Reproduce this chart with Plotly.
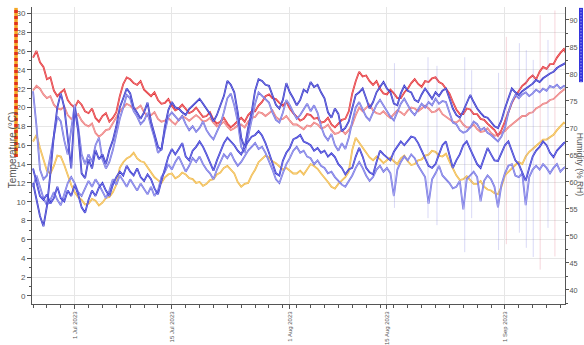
import pandas as pd
import plotly.graph_objects as go

# 12-hourly readings starting 25 Jun 2023 00:00
start = "2023-06-25 00:00"
n_points = 155

# Temperature sensors (degC)
temp_a = [
    25.3, 26.0, 24.8, 24.3, 23.0, 23.2, 21.8, 21.2, 21.6, 21.9, 20.8, 20.3, 20.0, 20.7, 20.3, 19.6, 19.4, 19.9, 18.9, 18.5,
    19.1, 19.4, 18.5, 18.9, 19.5, 21.2, 22.5, 23.2, 23.0, 22.6, 22.4, 22.8, 21.9, 21.5, 21.2, 21.6, 20.8, 20.4, 20.5, 20.9,
    20.2, 19.7, 19.9, 20.3, 19.8, 19.4, 19.6, 20.0, 19.5, 19.0, 19.1, 19.5, 18.7, 18.3, 18.5, 18.9, 18.3, 17.9, 18.2, 18.6,
    18.9, 18.5, 19.2, 19.6, 19.6, 20.2, 20.6, 21.2, 21.4, 21.0, 20.9, 20.5, 20.2, 20.6, 19.9, 19.4, 19.0, 18.6, 18.8, 19.3,
    19.2, 18.8, 18.9, 18.4, 18.5, 18.9, 18.2, 17.9, 18.3, 18.7, 18.8, 19.6, 21.5, 22.8, 23.8, 23.3, 23.4, 22.8, 22.4, 22.8,
    22.0, 21.5, 21.4, 21.9, 21.5, 21.0, 21.0, 21.6, 22.0, 22.6, 23.0, 22.5, 22.2, 22.8, 22.7, 23.1, 23.2, 22.7, 22.5, 22.0,
    21.5, 20.6, 19.8, 19.3, 19.3, 19.9, 19.8, 19.3, 19.3, 18.8, 18.7, 18.3, 18.0, 17.6, 17.0, 17.6, 18.5, 19.6, 20.5, 21.2,
    21.8, 22.3, 22.6, 23.1, 23.4, 23.0, 23.8, 24.3, 24.1, 24.6, 24.6, 25.3, 25.8, 26.2, 25.5,
]
temp_b = [
    21.8, 22.3, 22.0, 21.4, 21.0, 21.2, 20.3, 19.9, 19.8, 20.1, 19.2, 18.8, 19.0, 19.3, 18.6, 18.2, 18.0, 18.3, 17.3, 16.9,
    17.2, 17.6, 17.7, 18.3, 19.0, 19.6, 20.0, 20.4, 20.2, 19.8, 19.9, 20.2, 19.5, 19.1, 19.2, 19.5, 18.8, 18.5, 18.6, 18.9,
    18.5, 18.2, 18.7, 19.1, 18.9, 18.6, 18.9, 19.2, 18.9, 18.5, 18.6, 18.9, 18.4, 18.0, 18.2, 18.5, 18.0, 17.6, 17.8, 18.1,
    18.2, 17.9, 18.5, 18.9, 19.0, 19.5, 19.4, 19.1, 19.4, 19.7, 19.0, 18.7, 18.8, 19.1, 18.6, 18.2, 18.2, 17.9, 17.7, 18.1,
    18.0, 18.4, 18.2, 17.8, 17.9, 18.2, 17.6, 17.2, 17.3, 17.6, 17.2, 17.6, 18.2, 19.2, 20.0, 19.6, 20.0, 20.3, 19.7, 19.4,
    19.3, 19.6, 19.2, 18.9, 19.3, 19.7, 19.5, 19.2, 19.7, 20.0, 19.9, 19.6, 19.9, 20.2, 19.9, 19.5, 19.6, 19.9, 19.3, 19.0,
    18.8, 18.5, 18.4, 18.7, 18.2, 17.9, 17.9, 18.2, 17.7, 17.4, 17.5, 17.8, 17.3, 17.0, 17.1, 17.3, 17.5, 17.9, 18.2, 18.6,
    18.8, 19.1, 19.1, 19.4, 19.5, 19.9, 20.1, 20.4, 20.5, 20.8, 20.9, 21.3, 21.6, 21.9, 22.0,
]
temp_c = [
    16.4, 17.1, 15.7, 14.6, 13.3, 13.0, 13.8, 14.9, 14.8, 13.9, 12.8, 11.8, 11.0, 10.5, 10.2, 9.7, 9.8, 10.3, 10.1, 9.6,
    9.9, 10.4, 10.5, 11.0, 11.8, 13.6, 14.2, 14.6, 14.8, 15.2, 14.6, 14.3, 14.2, 13.7, 13.2, 12.6, 12.3, 12.0, 12.6, 12.9,
    13.0, 12.5, 12.7, 13.1, 12.9, 12.5, 12.4, 12.0, 12.1, 11.7, 11.9, 12.3, 12.4, 12.9, 13.1, 13.6, 13.8, 13.4, 13.0, 12.1,
    11.6, 11.9, 12.0, 12.8, 13.4, 14.2, 14.5, 14.9, 14.7, 14.3, 14.1, 13.7, 13.4, 13.6, 13.3, 13.0, 13.0, 13.3, 12.9, 13.4,
    14.0, 13.8, 13.5, 13.0, 12.6, 12.1, 11.6, 11.4, 11.9, 12.3, 12.6, 13.2, 15.5, 16.8, 16.3, 15.8, 15.2, 14.7, 14.4, 14.8,
    14.5, 14.1, 14.4, 14.7, 14.3, 14.0, 14.6, 14.9, 14.3, 13.9, 14.0, 14.4, 14.5, 14.9, 15.0, 15.4, 15.3, 14.9, 14.8, 15.1,
    14.3, 13.5, 12.8, 12.3, 12.4, 12.7, 12.3, 11.9, 11.9, 12.2, 11.6, 11.3, 11.2, 10.9, 10.8, 11.6, 12.8, 13.2, 13.6, 13.9,
    14.2, 14.0, 14.8, 15.3, 15.6, 15.9, 16.2, 16.6, 16.6, 16.9, 17.1, 17.6, 18.0, 18.4, 18.2,
]

# Humidity sensors (%RH)
rh_a = [
    59.8, 56.4, 53.7, 51.8, 55.5, 61.6, 68.6, 73.8, 76.4, 73.8, 68.6, 62.5, 73.8, 69.4, 61.6, 60.7, 64.2, 62.5, 65.9, 64.2,
    65.1, 63.3, 65.9, 67.7, 70.3, 73.8, 75.5, 77.3, 76.4, 73.8, 72.8, 71.7, 72.9, 74.7, 71.2, 68.6, 66.5, 65.9, 70.3, 73.3,
    74.8, 73.8, 73.6, 72.9, 72.4, 73.5, 74.2, 74.8, 75.4, 74.5, 73.6, 72.6, 71.2, 72.4, 74.2, 75.9, 78.7, 78.0, 76.6, 72.9,
    68.2, 66.3, 70.0, 72.9, 76.9, 79.0, 78.7, 78.0, 77.8, 75.9, 74.3, 73.6, 75.2, 78.3, 76.6, 75.5, 74.2, 75.2, 77.1, 76.6,
    78.5, 77.6, 78.0, 76.6, 75.5, 72.9, 71.9, 73.6, 72.6, 69.4, 70.0, 71.2, 73.5, 76.1, 76.6, 77.3, 75.5, 73.6, 74.8, 76.6,
    77.6, 78.5, 77.3, 76.6, 74.5, 74.2, 76.4, 77.8, 76.9, 76.6, 75.2, 74.8, 76.2, 77.3, 76.4, 75.4, 76.6, 75.9, 76.9, 77.3,
    75.5, 73.6, 72.4, 71.9, 73.1, 74.7, 76.1, 74.8, 73.6, 72.8, 72.1, 71.9, 71.0, 70.3, 70.0, 71.4, 73.6, 75.5, 77.3, 76.6,
    76.1, 76.8, 77.3, 77.8, 78.2, 78.9, 78.5, 79.2, 79.7, 80.1, 80.4, 81.1, 81.5, 81.8, 82.2,
]
rh_b = [
    76.8, 70.3, 62.3, 60.5, 61.2, 65.1, 68.6, 72.1, 71.2, 67.7, 65.1, 69.4, 74.3, 70.3, 65.1, 63.3, 65.1, 63.7, 66.8, 68.2,
    64.2, 62.5, 63.7, 65.9, 68.6, 71.7, 73.8, 76.1, 75.5, 73.1, 72.1, 70.7, 71.4, 72.8, 70.3, 68.2, 65.4, 66.1, 69.4, 72.1,
    72.9, 72.1, 71.4, 72.2, 70.7, 69.6, 70.3, 69.3, 70.0, 71.2, 69.6, 68.6, 67.9, 69.3, 70.7, 72.9, 75.5, 76.4, 74.2, 71.2,
    66.5, 65.4, 68.4, 71.0, 74.5, 76.6, 75.9, 75.2, 74.7, 72.9, 71.5, 71.0, 72.8, 75.2, 74.2, 72.9, 71.7, 72.4, 73.5, 74.5,
    73.1, 74.2, 72.8, 70.3, 68.6, 67.7, 68.9, 66.8, 65.8, 67.2, 66.1, 68.2, 71.2, 73.8, 74.8, 73.5, 72.1, 71.4, 72.8, 74.3,
    75.2, 74.2, 73.1, 72.1, 71.4, 72.9, 74.5, 75.4, 74.2, 73.1, 72.4, 73.5, 74.5, 73.8, 74.8, 74.2, 75.4, 74.5, 75.0, 74.8,
    72.9, 71.0, 70.7, 69.6, 69.1, 69.4, 70.1, 71.2, 70.7, 69.6, 70.0, 69.1, 68.7, 68.0, 67.5, 68.4, 70.0, 72.9, 74.8, 76.1,
    75.5, 76.2, 76.6, 75.9, 76.4, 77.1, 76.6, 77.3, 76.9, 77.8, 77.5, 78.0, 77.3, 77.8, 77.3,
]
rh_c = [
    62.5, 60.2, 57.4, 56.7, 57.7, 56.0, 57.0, 59.1, 57.0, 56.4, 58.4, 57.4, 59.5, 57.7, 55.3, 54.3, 56.7, 58.4, 57.4, 59.0,
    59.8, 58.4, 57.4, 59.5, 60.9, 61.9, 61.2, 63.0, 61.9, 61.2, 62.5, 60.9, 60.2, 61.4, 60.5, 58.8, 57.7, 60.2, 62.6, 64.7,
    66.1, 65.1, 66.1, 67.2, 64.7, 64.0, 65.8, 66.5, 67.5, 66.5, 65.1, 63.7, 62.1, 64.0, 65.8, 67.2, 68.2, 67.5, 66.8, 65.8,
    65.1, 66.5, 67.5, 68.4, 68.7, 69.4, 68.6, 67.2, 65.4, 63.3, 61.6, 61.2, 63.9, 65.4, 66.3, 67.9, 68.2, 68.7, 67.5, 67.2,
    66.8, 65.8, 66.3, 65.4, 65.8, 64.7, 65.3, 64.6, 63.3, 62.6, 61.4, 62.3, 62.6, 64.7, 66.3, 64.7, 62.6, 61.8, 61.4, 63.7,
    65.8, 65.1, 64.6, 64.0, 65.6, 66.5, 67.5, 66.8, 67.7, 68.4, 68.2, 67.2, 65.8, 64.4, 63.0, 62.6, 63.3, 65.1, 66.8, 67.5,
    65.1, 62.6, 64.0, 65.1, 66.8, 67.5, 66.1, 64.6, 63.3, 62.6, 64.4, 66.3, 65.1, 64.0, 63.9, 65.4, 66.8, 67.5, 65.8, 64.0,
    63.3, 61.6, 60.2, 62.6, 64.7, 65.8, 66.5, 67.5, 66.8, 65.4, 64.6, 65.8, 66.5, 67.2, 67.5,
]
rh_d = [
    59.0, 61.2, 59.1, 57.0, 55.7, 56.7, 58.1, 56.7, 55.7, 57.7, 59.8, 60.9, 59.8, 58.1, 57.4, 58.8, 60.2, 59.1, 60.5, 59.5,
    58.1, 57.0, 58.4, 60.5, 59.5, 61.2, 60.2, 59.1, 60.5, 59.5, 58.4, 59.7, 58.8, 57.7, 59.1, 57.4, 58.4, 60.9, 61.9, 63.3,
    62.3, 63.7, 64.7, 63.3, 61.9, 63.0, 64.4, 63.7, 64.7, 63.3, 62.3, 61.6, 60.5, 62.3, 63.7, 65.1, 64.4, 65.4, 64.0, 63.0,
    63.7, 64.7, 65.8, 66.5, 67.2, 66.1, 66.5, 65.4, 64.0, 62.3, 60.5, 59.8, 61.6, 63.3, 64.4, 65.8, 66.5, 65.4, 65.8, 64.7,
    64.4, 63.3, 64.0, 63.0, 62.6, 61.6, 61.9, 60.9, 60.2, 59.5, 59.1, 60.2, 61.2, 62.6, 63.7, 62.6, 61.2, 60.2, 60.9, 62.3,
    63.0, 61.9, 62.6, 61.6, 57.4, 62.3, 63.7, 64.7, 64.0, 65.1, 64.4, 63.0, 61.9, 60.9, 56.0, 60.5, 61.6, 63.0, 61.2, 60.5,
    59.8, 58.8, 59.1, 60.2, 54.9, 60.5, 61.2, 61.9, 60.9, 56.4, 60.2, 61.2, 60.5, 59.1, 55.3, 59.5, 61.6, 63.0, 63.3, 61.2,
    60.9, 61.6, 55.7, 60.9, 62.3, 63.0, 62.3, 63.3, 62.6, 61.6, 62.6, 63.3, 61.9, 62.6, 63.0,
]

# Short sensor glitches (%RH range of each spike)
spike_rh_dates = ["2023-08-16 02:00", "2023-08-20 22:00", "2023-08-22 05:00", "2023-08-26 05:00",
                  "2023-08-27 05:00", "2023-08-31 02:00", "2023-09-03 02:00", "2023-09-04 02:00",
                  "2023-09-05 02:00", "2023-09-07 05:00"]
spike_rh_low = [55.2, 53.3, 52.0, 47.0, 53.3, 47.4, 50.6, 47.8, 46.1, 51.5]
spike_rh_high = [82.0, 83.1, 81.5, 83.1, 80.7, 80.2, 85.7, 84.4, 82.6, 86.3]
spike_t_dates = ["2023-09-01 05:00", "2023-09-06 02:00", "2023-09-08 05:00"]
spike_t_low = [5.5, 2.8, 4.2]
spike_t_high = [27.5, 29.8, 30.3]

x_ticks = ["2023-07-01", "2023-07-15", "2023-08-01", "2023-08-15", "2023-09-01"]
x_tick_text = ["1 Jul 2023", "15 Jul 2023", "1 Aug 2023", "15 Aug 2023", "1 Sep 2023"]

times = pd.date_range(start, periods=n_points, freq="12h")

fig = go.Figure()


def spikes(dates, low, high, color, axis):
    xs, ys = [], []
    for d, lo, hi in zip(dates, low, high):
        xs += [d, d, None]
        ys += [lo, hi, None]
    fig.add_trace(go.Scatter(x=xs, y=ys, mode="lines", yaxis=axis, hoverinfo="skip",
                             line=dict(color=color, width=1), showlegend=False))


def sensor(values, color, axis):
    # coloured stroke with a pale core, giving the doubled-line look
    fig.add_trace(go.Scatter(x=times, y=values, mode="lines", yaxis=axis,
                             line=dict(color=color, width=1.8), showlegend=False))
    fig.add_trace(go.Scatter(x=times, y=values, mode="lines", yaxis=axis, hoverinfo="skip",
                             line=dict(color="rgba(255,255,255,0.6)", width=0.6), showlegend=False))


spikes(spike_t_dates, spike_t_low, spike_t_high, "rgba(228,120,140,0.3)", "y")
sensor(temp_c, "#f0b43a", "y")
sensor(temp_b, "#ec7474", "y")
sensor(temp_a, "#e3262b", "y")

spikes(spike_rh_dates, spike_rh_low, spike_rh_high, "rgba(130,130,225,0.3)", "y2")
sensor(rh_d, "#6b6be2", "y2")
sensor(rh_b, "#6a6ae0", "y2")
sensor(rh_c, "#2a2ad0", "y2")
sensor(rh_a, "#2626c8", "y2")

font_family = "Liberation Sans, Arial, sans-serif"
tick_font = dict(family=font_family, size=8, color="#555")

fig.update_layout(
    width=584, height=345,
    margin=dict(l=32, r=19, t=7, b=41),
    paper_bgcolor="white", plot_bgcolor="white",
    showlegend=False,
    xaxis=dict(
        type="date",
        range=["2023-06-24 20:24", "2023-09-09 15:50"],
        tickmode="array", tickvals=x_ticks, ticktext=x_tick_text,
        tickangle=-90, tickfont=dict(family=font_family, size=6.0, color="#555"),
        ticks="outside", ticklen=4, tickcolor="#555", ticklabelstandoff=0,
        showgrid=True, gridcolor="#e6e6e6", gridwidth=1,
        showline=True, linecolor="#555", linewidth=1,
        minor=dict(ticks="outside", ticklen=3, tickcolor="#555",
                   dtick=2 * 86400000, tick0="2023-06-25", showgrid=False),
        zeroline=False, automargin=False,
    ),
    yaxis=dict(
        range=[-0.85, 30.67],
        tickvals=list(range(0, 31, 2)),
        tickfont=tick_font,
        ticks="outside", ticklen=4, tickcolor="#555",
        showgrid=True, gridcolor="#e6e6e6", gridwidth=1,
        showline=True, linecolor="#555", linewidth=1,
        minor=dict(ticks="outside", ticklen=2, tickcolor="#555", dtick=1, tick0=0, showgrid=False),
        zeroline=False, automargin=False,
    ),
    yaxis2=dict(
        range=[37.4, 92.4],
        overlaying="y", side="right",
        tickvals=list(range(40, 91, 5)),
        tickfont=dict(family=font_family, size=7.3, color="#555"),
        ticks="outside", ticklen=3, tickcolor="#555", ticklabelstandoff=-1,
        showgrid=False,
        showline=True, linecolor="#555", linewidth=1,
        minor=dict(ticks="outside", ticklen=2, tickcolor="#555", dtick=2.5, tick0=40),
        zeroline=False, automargin=False,
    ),
)

# Axis titles with their series colour keys
fig.add_annotation(text="Temperature (°C)", xref="paper", yref="paper",
                   x=-0.036, y=0.52, xanchor="center", yanchor="middle", textangle=-90,
                   showarrow=False, font=dict(family=font_family, size=10, color="#555"))
fig.add_annotation(text="Humidity (% RH)", xref="paper", yref="paper",
                   x=1.0275, y=0.47, xanchor="center", yanchor="middle", textangle=90,
                   showarrow=False, font=dict(family=font_family, size=8.5, color="#555"))

fig.add_shape(type="line", xref="paper", yref="paper", x0=-0.0300, x1=-0.0300, y0=0.495, y1=0.997,
              line=dict(color="#f5a623", width=3.5))
fig.add_shape(type="line", xref="paper", yref="paper", x0=-0.0300, x1=-0.0300, y0=0.495, y1=0.997,
              line=dict(color="#e0301f", width=3.5, dash="3px,3px"))
fig.add_shape(type="line", xref="paper", yref="paper", x0=1.0300, x1=1.0300, y0=0.747, y1=0.997,
              line=dict(color="#3535dd", width=4))
fig.add_shape(type="line", xref="paper", yref="paper", x0=1.0300, x1=1.0300, y0=0.747, y1=0.997,
              line=dict(color="#9a9af0", width=1.5, dash="1px,2px"))

fig.write_html("out.html")
